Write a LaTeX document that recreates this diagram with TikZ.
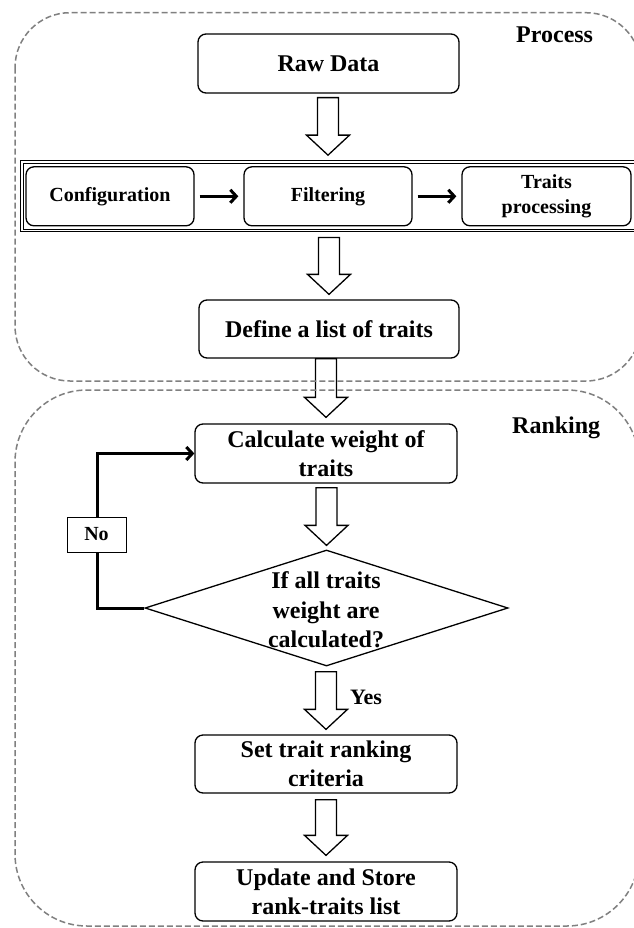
\documentclass[tikz,border=0pt]{standalone}
\usepackage{fontspec}
\setmainfont{Liberation Serif}
\usetikzlibrary{shapes.geometric,arrows.meta,calc}
\newcommand{\hollowarrow}[2]{%
  \path[hollow] let \p1=(#1), \p2=(#2) in
    (\x2-10.5pt,\y1) -- (\x2+10.5pt,\y1) -- (\x2+10.5pt,\y2+20pt) --
    (\x2+21.5pt,\y2+20pt) -- (\x2,\y2) -- (\x2-21.5pt,\y2+20pt) --
    (\x2-10.5pt,\y2+20pt) -- cycle;}
\begin{document}
\begin{tikzpicture}[x=1pt,y=-1pt,
  box/.style={draw, line width=1.3pt, rounded corners=8pt, inner sep=0pt, align=center,
    font=\fontsize{24}{29}\selectfont\bfseries},
  sbox/.style={box, font=\fontsize{20}{25}\selectfont\bfseries, minimum width=168pt, minimum height=59pt},
  wbox/.style={box, minimum width=262pt, minimum height=59pt},
  stripbox/.style={draw, double, double distance=1.4pt, line width=1pt, inner sep=0pt},
  decision/.style={draw, diamond, line width=1.3pt, inner sep=0pt, minimum width=363pt, minimum height=116pt},
  container/.style={draw=gray, line width=1.5pt, dash pattern=on 6pt off 3pt},
  lbl/.style={font=\fontsize{24}{29}\selectfont\bfseries, inner sep=0pt, anchor=base west},
  barrow/.style={line width=3pt, -{Straight Barb[length=6pt,width=13pt]}},
  hollow/.style={draw, line width=1.3pt, fill=white, line join=miter}]
\useasboundingbox (0,0) rectangle (633,928);
\fill[white] (0,0) rectangle (633,928);

% nodes
\node[wbox, minimum width=261pt] (raw) at (328.5,63.5) {Raw Data};
\node[stripbox, minimum width=628pt, minimum height=68.5pt] (strip) at (336,196.25) {};
\node[sbox] (config) at (110,196.3) {Configuration};
\node[sbox] (filt) at (328,196.3) {Filtering};
\node[sbox, minimum width=169pt] (traits) at (546.5,196.3) {Traits\\processing};
\node[wbox, minimum width=260pt, minimum height=58pt] (define) at (329,329) {Define a list of traits};
\node[wbox] (calc) at (326,453.5) {Calculate weight of\\traits};
\node[decision] (dec) at (326.5,608) {};
\node[font=\fontsize{24}{29.5}\selectfont\bfseries, align=center, inner sep=0pt] (dectext) at (326,610) {If all traits\\weight are\\calculated?};
\node[wbox, minimum height=58pt] (set) at (326,764) {Set trait ranking\\criteria};
\node[wbox] (update) at (326,891.5) {Update and Store\\rank-traits list};

% labels
\node[lbl] (proclbl) at (516,42.7) {Process};
\node[lbl] (ranklbl) at (512,433) {Ranking};
\node[lbl, font=\fontsize{22}{26}\selectfont\bfseries] (yes) at (350,704) {Yes};

% strip arrows
\draw[barrow, shorten <=5pt, shorten >=5pt] (config) -- (filt);
\draw[barrow, shorten <=5pt, shorten >=5pt] (filt) -- (traits);

% hollow arrows
\hollowarrow{$(raw.south)+(0,4)$}{$(filt.north)+(0,-11)$}
\hollowarrow{$(filt.south)+(0,11)$}{$(define.north)+(0,-5)$}
\hollowarrow{define.south}{$(calc.north)+(0,-6)$}
\hollowarrow{$(calc.south)+(0,4)$}{$(dec.north)+(0,-4)$}
\hollowarrow{$(dec.south)+(0,5)$}{$(set.north)+(0,-5)$}
\hollowarrow{$(set.south)+(0,6)$}{$(update.north)+(0,-6)$}

% loop
\coordinate (lc) at (97.7,608);
\draw[barrow] (dec.west) -- (lc) |- (calc.west);
\node[draw, line width=1pt, fill=white, minimum width=59pt, minimum height=35pt, inner sep=0pt,
  font=\fontsize{20}{24}\selectfont\bfseries] (no) at (96.5,534.5) {No};

% containers
\draw[container, rounded corners=55pt] (15,12.7) rectangle (641,381);
\draw[container, rounded corners=72pt] (15,390) rectangle (639,926);
\end{tikzpicture}
\end{document}
